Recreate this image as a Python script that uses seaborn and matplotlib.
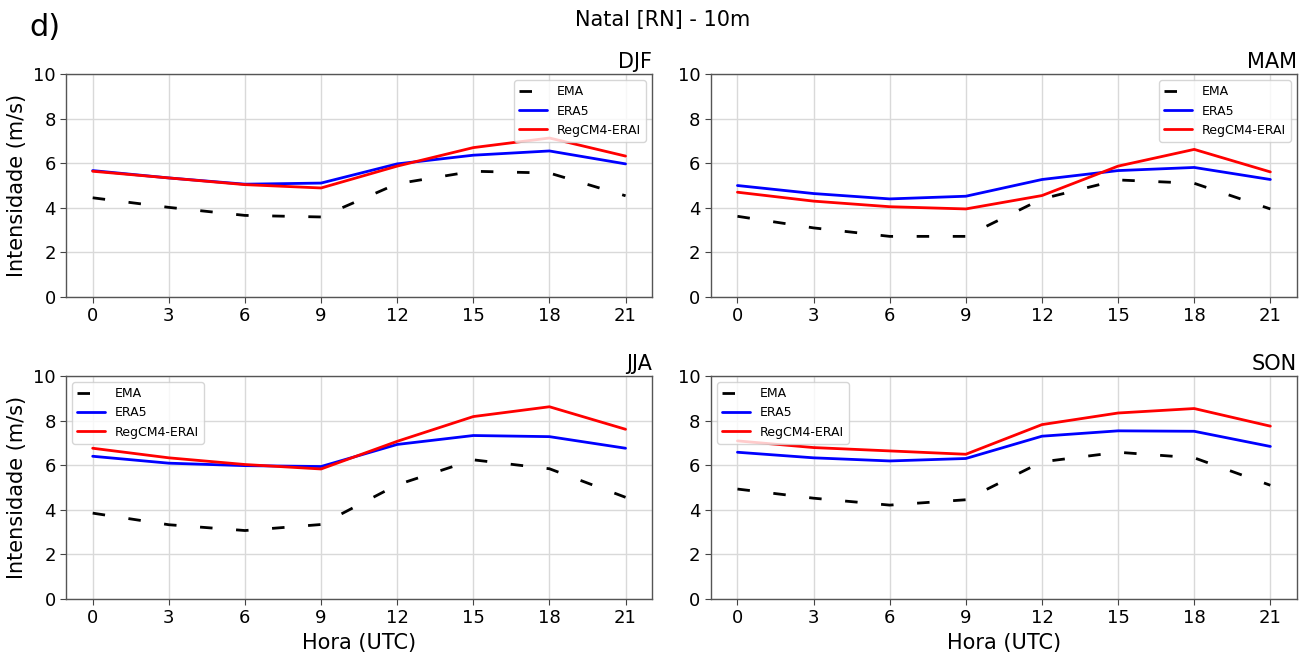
import numpy as np
import pandas as pd
import matplotlib
matplotlib.use("Agg")
import matplotlib.pyplot as plt
import seaborn as sns

hours = [0, 3, 6, 9, 12, 15, 18, 21]
seasons = ["DJF", "MAM", "JJA", "SON"]
sources = ["EMA", "ERA5", "RegCM4-ERAI"]

ema_djf = [4.45, 4.02, 3.66, 3.59, 5.08, 5.64, 5.56, 4.54]
era5_djf = [5.67, 5.34, 5.06, 5.11, 5.97, 6.36, 6.55, 5.97]
regcm_djf = [5.64, 5.34, 5.04, 4.89, 5.87, 6.70, 7.13, 6.32]

ema_mam = [3.62, 3.10, 2.72, 2.72, 4.40, 5.25, 5.10, 3.95]
era5_mam = [5.00, 4.64, 4.40, 4.52, 5.27, 5.67, 5.81, 5.27]
regcm_mam = [4.70, 4.30, 4.05, 3.95, 4.55, 5.87, 6.62, 5.61]

ema_jja = [3.85, 3.33, 3.07, 3.34, 5.12, 6.24, 5.84, 4.56]
era5_jja = [6.40, 6.09, 5.98, 5.94, 6.93, 7.33, 7.28, 6.76]
regcm_jja = [6.76, 6.33, 6.03, 5.83, 7.07, 8.18, 8.62, 7.61]

ema_son = [4.93, 4.52, 4.21, 4.45, 6.15, 6.58, 6.33, 5.10]
era5_son = [6.58, 6.33, 6.19, 6.30, 7.30, 7.54, 7.52, 6.84]
regcm_son = [7.09, 6.79, 6.64, 6.49, 7.82, 8.34, 8.54, 7.75]

data = {
    "DJF": [ema_djf, era5_djf, regcm_djf],
    "MAM": [ema_mam, era5_mam, regcm_mam],
    "JJA": [ema_jja, era5_jja, regcm_jja],
    "SON": [ema_son, era5_son, regcm_son],
}

rows = []
for s in seasons:
    for src, vals in zip(sources, data[s]):
        for h, v in zip(hours, vals):
            rows.append({"season": s, "source": src, "hora": h, "valor": v})
df = pd.DataFrame(rows)

sns.set_style("ticks")
plt.rcParams["font.family"] = ["DejaVu Sans"]
plt.rcParams["text.color"] = "black"
plt.rcParams["axes.labelcolor"] = "black"
plt.rcParams["xtick.color"] = "black"
plt.rcParams["ytick.color"] = "black"

palette = {"EMA": "black", "ERA5": "blue", "RegCM4-ERAI": "red"}
dashes = {"EMA": (4.5, 8.5), "ERA5": "", "RegCM4-ERAI": ""}

fig, axes = plt.subplots(2, 2, figsize=(13.13, 6.55), dpi=100)
fig.subplots_adjust(left=0.0503, right=0.9878, top=0.887, bottom=0.0855,
                    wspace=0.1, hspace=0.354)

legend_loc = {"DJF": "upper right", "MAM": "upper right",
              "JJA": "upper left", "SON": "upper left"}

for ax, s in zip(axes.flat, seasons):
    sub = df[df["season"] == s]
    sns.lineplot(data=sub, x="hora", y="valor", hue="source", style="source",
                 palette=palette, dashes=dashes, linewidth=2, ax=ax,
                 hue_order=sources, style_order=sources)
    ax.set_ylim(0, 10)
    ax.set_xticks(hours)
    ax.set_yticks([0, 2, 4, 6, 8, 10])
    ax.grid(True, color="#d9d9d9", linewidth=1)
    ax.set_axisbelow(True)
    ax.tick_params(labelsize=13, length=4, color="#444444")
    for sp in ax.spines.values():
        sp.set_color("#555555")
        sp.set_linewidth(1)
    ax.set_title(s, loc="right", fontsize=15, pad=4)
    ax.set_xlabel("")
    ax.set_ylabel("")
    handles, labels = ax.get_legend_handles_labels()
    leg = ax.legend(handles=handles, labels=labels, loc=legend_loc[s], fontsize=9,
                    framealpha=0.8, edgecolor="#cccccc", handlelength=2.2)
    leg.set_zorder(5)

for ax in axes[:, 0]:
    ax.set_ylabel("Intensidade (m/s)", fontsize=15)
for ax in axes[1, :]:
    ax.set_xlabel("Hora (UTC)", fontsize=15)

fig.suptitle("Natal [RN] - 10m", x=0.505, y=0.985, fontsize=15)
fig.text(0.022, 0.958, "d)", fontsize=22, va="center", ha="left")

fig.savefig("out.png", dpi=100)
